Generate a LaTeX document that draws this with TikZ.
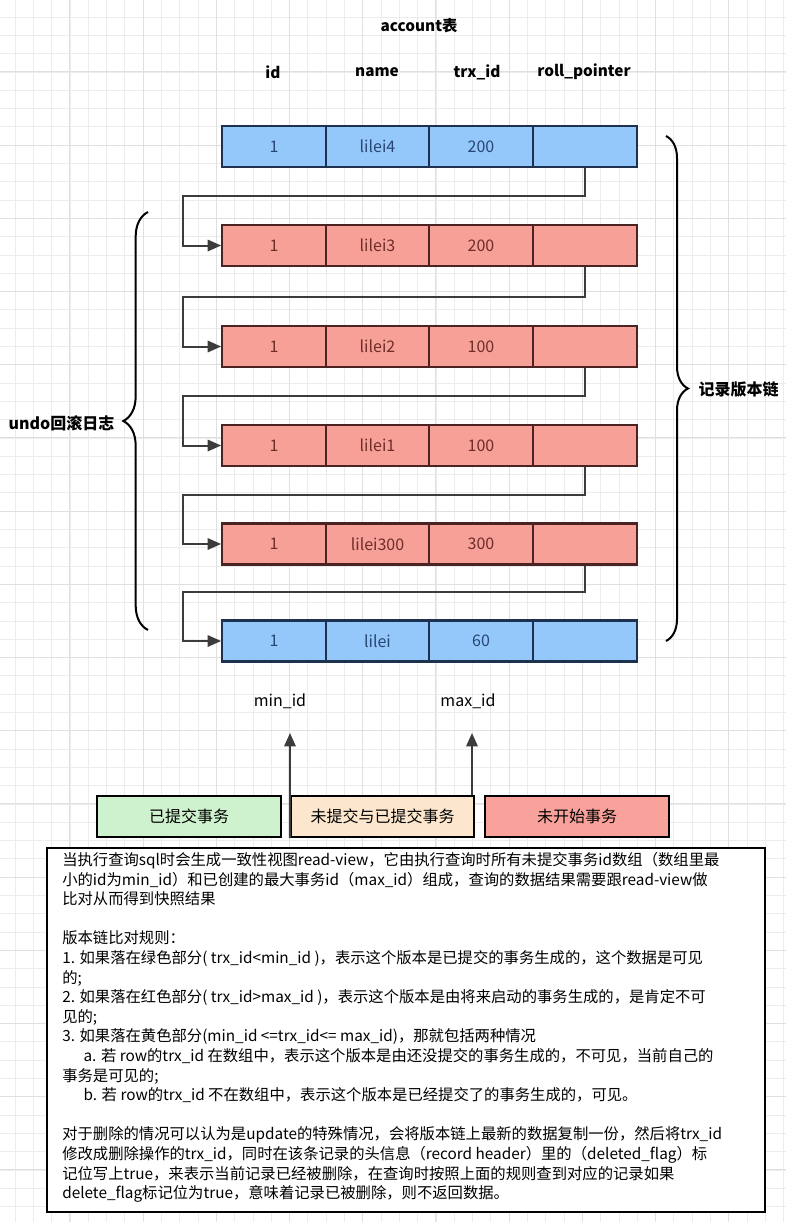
\documentclass[tikz,border=0pt]{standalone}
\usepackage{fontspec}
\newfontfamily\cjk{Noto Sans CJK SC}
\usetikzlibrary{arrows.meta,decorations.pathreplacing,calc}
\definecolor{bluefill}{RGB}{148,200,250}
\definecolor{blueborder}{RGB}{30,50,80}
\definecolor{bluetext}{RGB}{40,70,115}
\definecolor{redfill}{RGB}{246,160,152}
\definecolor{redborder}{RGB}{75,35,35}
\definecolor{redtext}{RGB}{110,45,40}
\definecolor{connc}{RGB}{60,60,60}
\definecolor{gridminor}{RGB}{236,236,236}
\definecolor{gridmajor}{RGB}{224,224,224}
\definecolor{greenfill}{RGB}{205,242,205}
\definecolor{peachfill}{RGB}{253,230,206}
\definecolor{salmonfill}{RGB}{248,162,155}
\begin{document}
\begin{tikzpicture}[x=0.75pt,y=-0.75pt,
  font=\cjk,
  cell/.style={draw=#1border, fill=#1fill, text=#1text, line width=1.6pt,
    minimum width=77.8pt, minimum height=30.8pt, inner sep=0pt,
    font=\cjk\fontsize{12}{14}\selectfont},
  hdr/.style={font=\cjk\bfseries\fontsize{11.5}{14}\selectfont, text={RGB:red,34;green,34;blue,34}},
  lbl/.style={font=\cjk\bfseries\fontsize{12}{14}\selectfont, text={RGB:red,40;green,40;blue,40}},
  conn/.style={draw=connc, line width=1.5pt, -{Triangle[length=10pt,width=8.5pt]}},
  brc/.style={draw={RGB:red,50;green,50;blue,50}, line width=1.5pt, decorate},
  bbox/.style={draw={RGB:red,45;green,45;blue,45}, line width=1.5pt, minimum width=137.5pt,
    minimum height=30.8pt, inner sep=0pt, font=\cjk\fontsize{12}{14}\selectfont},
  idlbl/.style={font=\cjk\fontsize{12}{14}\selectfont, text={RGB:red,50;green,50;blue,50}}
]
\useasboundingbox (0,0) rectangle (786,1222);
\fill[white] (0,0) rectangle (786,1222);
% background grid
\foreach \i in {0,...,42} \draw[gridminor, line width=0.6pt] ({15+18.3*\i},0) -- ({15+18.3*\i},1222);
\foreach \j in {0,...,66} \draw[gridminor, line width=0.6pt] (0,{17+18.3*\j}) -- (786,{17+18.3*\j});
\foreach \i in {3,7,...,42} \draw[gridmajor, line width=0.7pt] ({15+18.3*\i},0) -- ({15+18.3*\i},1222);
\foreach \j in {3,7,...,66} \draw[gridmajor, line width=0.7pt] (0,{17+18.3*\j}) -- (786,{17+18.3*\j});

% title and headers
\node[hdr] (title) at (419,26) {account表};
\node[hdr] (hid) at (273,72) {id};
\node[hdr] (hname) at (377,72) {name};
\node[hdr] (htrx) at (477,72) {trx\_id};
\node[hdr] (hroll) at (584,72) {roll\_pointer};

% rows
\foreach \y/\n/\v/\s [count=\r] in {146.5/lilei4/200/blue, 245.5/lilei3/200/red, 346.5/lilei2/100/red, 445.5/lilei1/100/red, 544/lilei300/300/red, 641/lilei/60/blue} {
  \node[cell=\s] (r\r-1) at (274,\y) {1};
  \node[cell=\s] (r\r-2) at (377.5,\y) {\n};
  \node[cell=\s] (r\r-3) at (481,\y) {\v};
  \node[cell=\s] (r\r-4) at (585,\y) {};
}

% roll pointer connectors
\foreach \a/\b in {1/2,2/3,3/4,4/5,5/6}
  \draw[conn] (r\a-4.south) |- ($(r\b-1.west)+(-38,-49.5)$) |- (r\b-1.west);

% braces
\coordinate (lb1) at (148,630);
\coordinate (lb2) at (148,212);
\draw[brc, decoration={brace, amplitude=18.5pt}] (lb1) -- (lb2);
\node[lbl, anchor=east] (undo) at (119,423) {undo回滚日志};
\coordinate (rb1) at (666,136);
\coordinate (rb2) at (666,641);
\draw[brc, decoration={brace, amplitude=16.5pt}] (rb1) -- (rb2);
\node[lbl, anchor=west] (chain) at (694,389) {记录版本链};

% read-view
\node[bbox, fill=greenfill, text={RGB:red,60;green,80;blue,60}] (done) at (189,816.5) {已提交事务};
\node[bbox, fill=peachfill, text={RGB:red,80;green,70;blue,60}] (mid) at (382.5,816.5) {未提交与已提交事务};
\node[bbox, fill=salmonfill, text={RGB:red,90;green,40;blue,40}] (todo) at (577,816.5) {未开始事务};
\node[idlbl] (minl) at (280,701) {min\_id};
\node[idlbl] (maxl) at (468,701) {max\_id};
\coordinate (mintip) at (290,733);
\coordinate (maxtip) at (472,733);
\draw[conn] (mid.south west) -- (mintip);
\draw[conn] (mid.north east -| maxtip) -- (maxtip);

% explanation box
\node[draw={RGB:red,50;green,50;blue,50}, line width=1.5pt, fill=white, minimum width=538.5pt, minimum height=273pt, inner sep=0pt] (frame) at (406,1030) {};
\node[anchor=north west, align=left, inner sep=0pt, text={RGB:red,30;green,30;blue,30},
  font=\cjk\fontsize{11.5}{14.7}\selectfont] (txt) at (62,852) {%
当执行查询sql时会生成一致性视图read-view，它由执行查询时所有未提交事务id数组（数组里最\\
小的id为min\_id）和已创建的最大事务id（max\_id）组成，查询的数据结果需要跟read-view做\\
比对从而得到快照结果\\[14.7pt]
版本链比对规则：\\
1. 如果落在绿色部分( trx\_id<min\_id )，表示这个版本是已提交的事务生成的，这个数据是可见\\
的;\\
2. 如果落在红色部分( trx\_id>max\_id )，表示这个版本是由将来启动的事务生成的，是肯定不可\\
见的;\\
3. 如果落在黄色部分(min\_id <=trx\_id<= max\_id)，那就包括两种情况\\
\hspace*{16pt}a. 若 row的trx\_id 在数组中，表示这个版本是由还没提交的事务生成的，不可见，当前自己的\\
事务是可见的;\\
\hspace*{16pt}b. 若 row的trx\_id 不在数组中，表示这个版本是已经提交了的事务生成的，可见。\\[14.7pt]
对于删除的情况可以认为是update的特殊情况，会将版本链上最新的数据复制一份，然后将trx\_id\\
修改成删除操作的trx\_id，同时在该条记录的头信息（record header）里的（deleted\_flag）标\\
记位写上true，来表示当前记录已经被删除，在查询时按照上面的规则查到对应的记录如果\\
delete\_flag标记位为true，意味着记录已被删除，则不返回数据。};
\end{tikzpicture}
\end{document}
